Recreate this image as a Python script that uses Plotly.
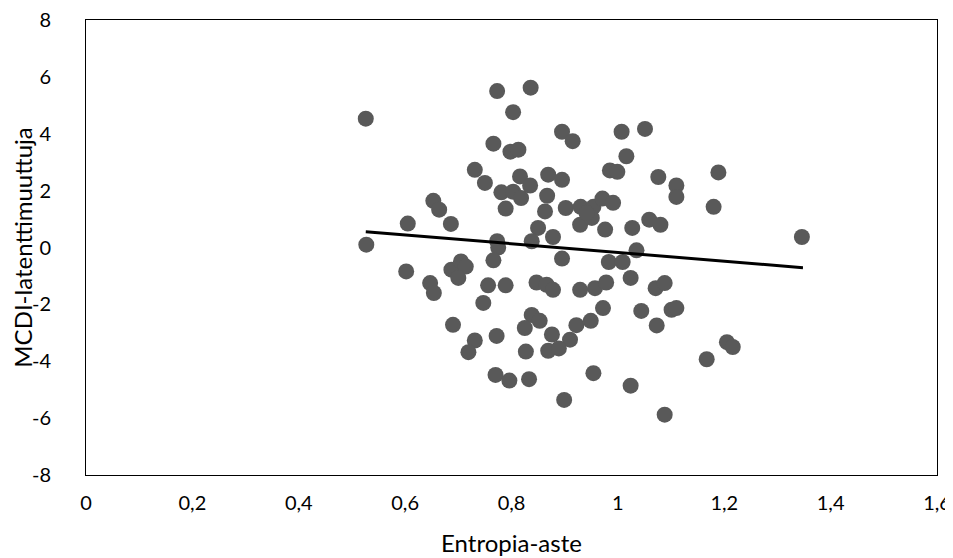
import plotly.graph_objects as go

entropia = [0.526, 0.773, 0.836, 0.803, 0.766, 0.798, 0.813, 0.731, 0.750, 0.816,
            0.835, 0.781, 0.803, 0.818, 0.789, 0.653, 0.664, 0.605, 0.686, 0.527,
            0.773, 0.895, 0.915, 1.007, 1.051, 1.016, 0.985, 0.999, 1.076, 1.189,
            1.110, 1.110, 1.180, 0.869, 0.895, 0.867, 0.863, 0.902, 0.930, 0.954,
            0.971, 0.991, 0.929, 0.951, 0.941, 0.976, 1.027, 1.059, 1.080, 0.850,
            0.878, 0.838, 1.035, 0.895, 0.983, 1.009, 1.024, 0.847, 0.866, 0.878,
            0.929, 0.957, 0.978, 1.071, 1.088, 0.972, 1.044, 1.101, 1.110, 0.838,
            0.853, 0.825, 0.876, 0.922, 0.949, 1.073, 0.910, 0.869, 0.889, 0.827,
            1.205, 1.216, 1.167, 0.833, 0.954, 1.024, 0.899, 1.088, 0.775, 0.766,
            0.602, 0.687, 0.705, 0.714, 0.700, 0.647, 0.654, 0.756, 0.789, 0.747,
            0.690, 0.731, 0.719, 0.772, 0.770, 0.796, 1.346]
mcdi = [4.53, 5.50, 5.62, 4.76, 3.65, 3.37, 3.44, 2.73, 2.27, 2.50,
        2.18, 1.94, 1.96, 1.74, 1.37, 1.64, 1.33, 0.84, 0.83, 0.10,
        0.22, 4.07, 3.74, 4.07, 4.17, 3.21, 2.71, 2.66, 2.48, 2.64,
        2.18, 1.78, 1.43, 2.56, 2.38, 1.82, 1.27, 1.39, 1.43, 1.43,
        1.72, 1.57, 0.80, 1.04, 1.21, 0.63, 0.69, 0.98, 0.80, 0.69,
        0.37, 0.22, -0.10, -0.39, -0.51, -0.51, -1.07, -1.23, -1.31, -1.49,
        -1.49, -1.43, -1.23, -1.43, -1.25, -2.13, -2.23, -2.19, -2.13, -2.37,
        -2.58, -2.83, -3.06, -2.73, -2.58, -2.74, -3.24, -3.63, -3.55, -3.66,
        -3.33, -3.50, -3.93, -4.63, -4.42, -4.86, -5.36, -5.88, 0.00, -0.45,
        -0.84, -0.78, -0.49, -0.67, -1.07, -1.25, -1.60, -1.33, -1.33, -1.95,
        -2.72, -3.27, -3.68, -3.11, -4.48, -4.68, 0.37]

trend_x = [0.526, 1.348]
trend_y = [0.556, -0.71]

x_tickvals = [0, 0.2, 0.4, 0.6, 0.8, 1.0, 1.2, 1.4, 1.6]
x_ticktext = ["0", "0,2", "0,4", "0,6", "0,8", "1", "1,2", "1,4", "1,6"]
y_tickvals = [-8, -6, -4, -2, 0, 2, 4, 6, 8]
y_ticktext = ["-8", "-6", "-4", "-2", "0", "2", "4", "6", "8"]

font_family = "Lato, 'Open Sans', sans-serif"

fig = go.Figure()
fig.add_trace(go.Scatter(
    x=entropia, y=mcdi, mode="markers",
    marker=dict(size=16, color="rgb(89,89,89)", line=dict(width=0)),
    hoverinfo="x+y", showlegend=False))
fig.add_trace(go.Scatter(
    x=trend_x, y=trend_y, mode="lines",
    line=dict(color="black", width=3), showlegend=False))

# page body has an 8px margin; figure sized so the plot area lands where the reference has it
fig.update_layout(
    width=945, height=550,
    margin=dict(l=78, r=16, t=12, b=83),
    paper_bgcolor="white", plot_bgcolor="white",
    font=dict(family=font_family, color="black", size=20),
    xaxis=dict(range=[0, 1.6], tickvals=x_tickvals, ticktext=x_ticktext,
               showgrid=False, zeroline=False, showline=True, mirror=True,
               linecolor="black", linewidth=1, ticks="", automargin=False,
               ticklabelstandoff=10, ticklabeloverflow="allow",
               title=dict(text="Entropia-aste", font=dict(size=24), standoff=22)),
    yaxis=dict(range=[-8, 8], tickvals=y_tickvals, ticktext=y_ticktext,
               showgrid=False, zeroline=False, showline=True, mirror=True,
               linecolor="black", linewidth=1, ticks="", automargin=False,
               ticklabelstandoff=30, ticklabeloverflow="allow",
               title=dict(text="MCDI-latenttimuuttuja", font=dict(size=24), standoff=15)),
)

fig.write_html("out.html")
